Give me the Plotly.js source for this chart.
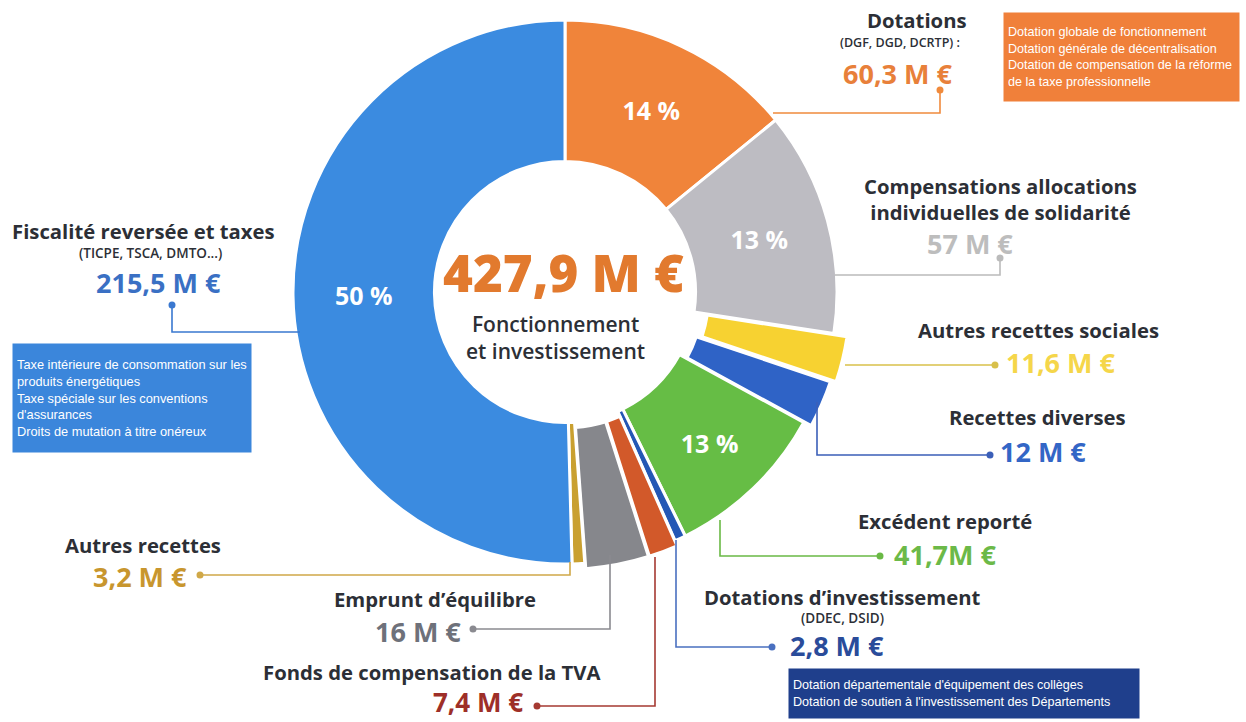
<!DOCTYPE html>
<html>
<head>
<meta charset="utf-8">
<script src="https://cdn.plot.ly/plotly-3.0.1.min.js"></script>
<style>html,body{margin:0;padding:0;background:#ffffff;}#chart{width:1246px;height:722px;}</style>
</head>
<body>
<div id="chart"></div>
<script>
// ---- data ----
const labels = ["Dotations", "Compensations allocations individuelles de solidarité", "Autres recettes sociales", "Recettes diverses", "Excédent reporté", "Dotations d’investissement", "Fonds de compensation de la TVA", "Emprunt d’équilibre", "Autres recettes", "Fiscalité reversée et taxes"];
const values = [60.3, 57, 11.6, 12, 41.7, 2.8, 7.4, 16, 3.2, 215.5];
const pctText = ["14 %", "13 %", "", "", "13 %", "", "", "", "", "50 %"];
const valueLabels = ["60,3 M €", "57 M €", "11,6 M €", "12 M €", "41,7M €", "2,8 M €", "7,4 M €", "16 M €", "3,2 M €", "215,5 M €"];
const titleLabels = ["Dotations", "Compensations allocations<br>individuelles de solidarité", "Autres recettes sociales", "Recettes diverses", "Excédent reporté", "Dotations d’investissement", "Fonds de compensation de la TVA", "Emprunt d’équilibre", "Autres recettes", "Fiscalité reversée et taxes"];
const subLabels = ["(DGF, DGD, DCRTP) :", "", "", "", "", "(DDEC, DSID)", "", "", "", "(TICPE, TSCA, DMTO...)"];
const totalLabel = "427,9 M €";
const centerCaption = "Fonctionnement<br>et investissement";
const boxDotations = "Dotation globale de fonctionnement<br>Dotation générale de décentralisation<br>Dotation de compensation de la réforme<br>de la taxe professionnelle";
const boxFiscalite = "Taxe intérieure de consommation sur les<br>produits énergétiques<br>Taxe spéciale sur les conventions<br>d'assurances<br>Droits de mutation à titre onéreux";
const boxInvest = "Dotation départementale d'équipement des collèges<br>Dotation de soutien à l'investissement des Départements";

// ---- styles ----
const sliceColors = ["#F0843A", "#BDBCC2", "#F7D231", "#2F63C6", "#66BD45", "#2457B5", "#D2592A", "#86878C", "#C9A030", "#3B8BE0"];
const valueColors = ["#E8803A", "#BDBDBD", "#F5D64A", "#3366C6", "#6CB948", "#2A4C9A", "#9E2F28", "#6E717A", "#C8962E", "#3A70C4"];
const lineColors = ["#F08A3C", "#BBBBBB", "#D8C04A", "#3B5FB8", "#6AB945", "#4A70C0", "#A53A32", "#8A8A90", "#D0A848", "#3A78D0"];
const pulls = [0, 0, 0.05, 0.03, 0, 0, 0.02, 0.02, 0, 0];

const W = 1246, H = 722;
const px = x => x / W, py = y => 1 - y / H;
const FONT = "Open Sans, Noto Sans, sans-serif";
const NARROW = "Liberation Sans Narrow, Arial Narrow, Liberation Sans, sans-serif";
const DARK = "#2C2F36";

// pie geometry (pixels)
const cx = 565, cy = 292, R = 272, maxPull = Math.max(...pulls);
const half = R * (1 + maxPull);

const trace = {
  type: "pie",
  labels: labels,
  values: values,
  text: pctText,
  textinfo: "text",
  textposition: "inside",
  insidetextorientation: "horizontal",
  textfont: {family: FONT, size: 25, color: "#ffffff", weight: 700},
  sort: false,
  direction: "clockwise",
  rotation: 0,
  hole: 0.48,
  pull: pulls,
  marker: {colors: sliceColors, line: {color: "#ffffff", width: 3}},
  hoverinfo: "none",
  showlegend: false,
  domain: {x: [px(cx - half), px(cx + half)], y: [py(cy + half), py(cy - half)]}
};

// label layout: [titleX, titleY, subX, subY, valueX, valueY, valueSize]
const labelPos = [
  [917, 20, 900, 43, 897, 73, 27],
  [1000, 199, 0, null, 970, 243, 27],
  [1038, 330, 0, null, 1060, 362, 27],
  [1037, 417, 0, null, 1043, 451, 27],
  [945, 521, 0, null, 945, 554, 27],
  [842, 597, 842, 618, 837, 645, 27],
  [432, 672, 0, null, 478, 702, 26],
  [435, 599, 0, null, 418, 631, 27],
  [143, 545, 0, null, 140, 576, 27],
  [143, 231, 150, 253, 158, 282, 27]
];
// leader paths [[x,y],...]; the last point carries the dot
const leaders = [
  [[773, 113], [940, 113], [940, 90]],
  [[835, 275], [1000, 275], [1000, 258]],
  [[845, 365], [995, 365]],
  [[817, 402], [817, 455], [990, 455]],
  [[720, 520], [720, 556], [880, 556]],
  [[676, 540], [676, 647], [772, 647]],
  [[655, 557], [655, 706], [537, 706]],
  [[610, 555], [610, 629], [473, 629]],
  [[570, 562], [570, 575], [200, 575]],
  [[300, 332], [172, 332], [172, 305]]
];

const annotations = [];
const shapes = [];
labels.forEach((lab, i) => {
  const p = labelPos[i];
  annotations.push({x: px(p[0]), y: py(p[1]), xref: "paper", yref: "paper", showarrow: false,
    text: titleLabels[i], xanchor: "center", yanchor: "middle",
    font: {family: FONT, size: 20.3, color: DARK, weight: 700}});
  if (subLabels[i]) {
    annotations.push({x: px(p[2]), y: py(p[3]), xref: "paper", yref: "paper", showarrow: false,
      text: subLabels[i], xanchor: "center", yanchor: "middle",
      font: {family: FONT, size: i === 0 ? 12.5 : 13.5, color: DARK, weight: 600}});
  }
  annotations.push({x: px(p[4]), y: py(p[5]), xref: "paper", yref: "paper", showarrow: false,
    text: valueLabels[i], xanchor: "center", yanchor: "middle",
    font: {family: FONT, size: p[6], color: valueColors[i], weight: 700}});
  const pts = leaders[i];
  let d = "M " + pts.map(q => px(q[0]) + " " + py(q[1])).join(" L ");
  shapes.push({type: "path", xref: "paper", yref: "paper", path: d, line: {color: lineColors[i], width: 1.6}});
  const last = pts[pts.length - 1];
  shapes.push({type: "circle", xref: "paper", yref: "paper",
    x0: px(last[0] - 3.5), x1: px(last[0] + 3.5), y0: py(last[1] + 3.5), y1: py(last[1] - 3.5),
    fillcolor: lineColors[i], line: {width: 0}});
});

// center text
annotations.push({x: px(563), y: py(272), xref: "paper", yref: "paper", showarrow: false,
  text: totalLabel, xanchor: "center", yanchor: "middle",
  font: {family: FONT, size: 51, color: "#E27A2E", weight: 800}});
annotations.push({x: px(555), y: py(337), xref: "paper", yref: "paper", showarrow: false,
  text: centerCaption, xanchor: "center", yanchor: "middle",
  font: {family: FONT, size: 21, color: DARK, weight: 600}});

// info boxes
function box(text, x0, y0, x1, y1, color, size) {
  annotations.push({x: px(x0), y: py(y0), xref: "paper", yref: "paper", showarrow: false,
    text: text, xanchor: "left", yanchor: "top", align: "left", valign: "middle",
    width: x1 - x0 - 10, height: y1 - y0 - 8, borderpad: 4, bgcolor: color,
    font: {family: NARROW, size: size, color: "#ffffff"}});
}
box(boxDotations, 1003, 12, 1240, 100, "#F0803A", 12.6);
box(boxFiscalite, 12, 343, 252, 451, "#3B86DB", 12.8);
box(boxInvest, 788, 668, 1140, 717, "#1F3F8C", 12.6);

const layout = {
  width: W, height: H,
  margin: {l: 0, r: 0, t: 0, b: 0},
  paper_bgcolor: "#ffffff",
  plot_bgcolor: "#ffffff",
  showlegend: false,
  annotations: annotations,
  shapes: shapes
};

Plotly.newPlot("chart", [trace], layout, {displayModeBar: false, staticPlot: true});
</script>
</body>
</html>
